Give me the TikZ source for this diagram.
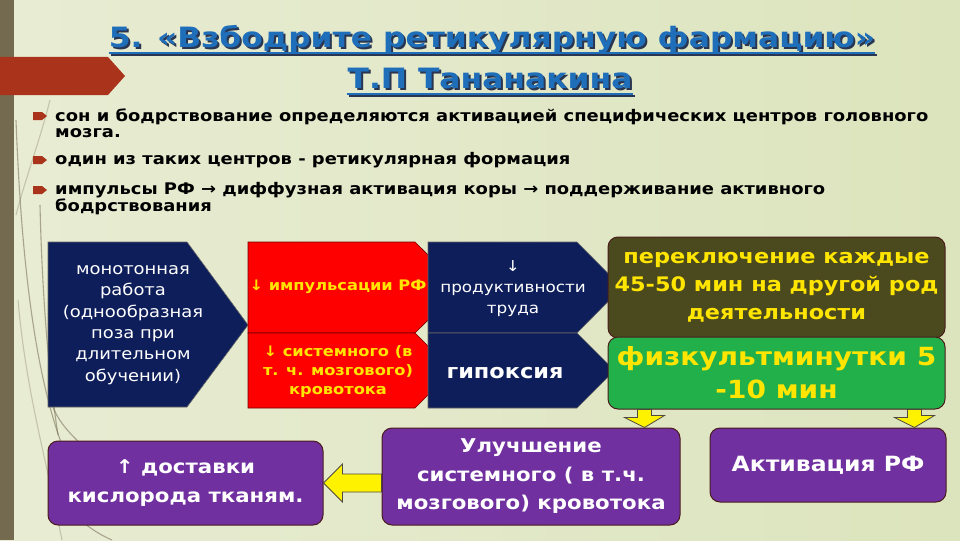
\documentclass[tikz,border=0pt]{standalone}
\usepackage{fontspec}
\setmainfont[FakeStretch=1.12]{DejaVu Sans}
\usetikzlibrary{positioning, calc}

\definecolor{navy}{HTML}{0E1E5B}
\definecolor{brick}{HTML}{A9341B}
\definecolor{band}{HTML}{736A50}
\definecolor{titleblue}{HTML}{1F6EBA}
\definecolor{titleshade}{HTML}{2A3650}
\definecolor{txtyellow}{HTML}{FFE500}
\definecolor{olive}{HTML}{4B4A1F}
\definecolor{fizgreen}{HTML}{22B04B}
\definecolor{violet}{HTML}{7030A0}
\definecolor{rim}{HTML}{4A1C1C}
\definecolor{bgleft}{HTML}{E8ECD3}
\definecolor{bgmid}{HTML}{FAF9F0}
\definecolor{bgright}{HTML}{DCE4BD}

\begin{document}
\begin{tikzpicture}[x=1pt, y=-1pt,
    titletxt/.style={anchor=base, inner sep=0pt, font=\fontsize{28}{30}\selectfont\bfseries},
    bullet/.style={anchor=west, align=left, inner sep=0pt, font=\fontsize{16}{16}\selectfont\bfseries},
    chevnavy/.style={fill=navy, draw=black!60, line width=0.6},
    chevred/.style={fill=red, draw=red!45!black, line width=0.6},
    navytxt/.style={text=white, align=center, inner sep=0pt, font=\fontsize{16}{21.4}\selectfont},
    redtxt/.style={text=txtyellow, align=center, inner sep=0pt, font=\fontsize{14.5}{19}\selectfont\bfseries},
    rbox/.style={rounded corners=10, draw=rim, line width=1, align=center, inner sep=0pt},
    purplebox/.style={rbox, fill=violet, text=white, font=\fontsize{19}{28.5}\selectfont\bfseries},
    yarrow/.style={fill=yellow, draw=black!80!yellow, line width=0.8, line join=miter},
    grass/.style={draw=band, line width=1.1, opacity=0.55}
]

% background and left band
\shade[left color=bgleft, middle color=bgmid, right color=bgright] (0,0) rectangle (960,540);
\fill[band] (0,0) rectangle (14,540);
\draw[grass] (16,120) .. controls (22,280) and (38,380) .. (62,445);
\draw[grass] (40,205) .. controls (42,290) and (48,370) .. (58,435);
\draw[grass, opacity=0.3] (18,300) .. controls (26,390) and (44,450) .. (62,540);
\draw[grass] (52,405) .. controls (58,420) and (66,430) .. (82,445);
\draw[grass] (80,520) .. controls (90,528) and (100,535) .. (112,540);
\draw[grass, opacity=0.3] (50,100) .. controls (40,140) and (25,180) .. (16,215);
\fill[brick] (0,57) -- (108,57) -- (125,76) -- (108,95) -- (0,95) -- cycle;

% Title
\foreach \dd/\cc in {2/titleshade, 0/titleblue} {
  \node[titletxt, text=\cc] (title1) at (492+\dd,48+\dd) {5. «Взбодрите ретикулярную фармацию»};
  \draw[\cc, line width=2] ($(title1.base west)+(0,5)$) -- ($(title1.base east)+(0,5)$);
  \node[titletxt, text=\cc] (title2) at (490+\dd,88+\dd) {Т.П Тананакина};
  \draw[\cc, line width=2] ($(title2.base west)+(0,6)$) -- ($(title2.base east)+(0,6)$);
}

% Bullets
\foreach \yy in {116,160,190}
  \fill[brick] (33,\yy-4) -- (42,\yy-4) -- (47,\yy) -- (42,\yy+4) -- (33,\yy+4) -- cycle;
\node[bullet] (sleep) at (55,123) {сон и бодрствование определяются активацией специфических центров головного\\мозга.};
\node[bullet] (centre) at (55,160) {один из таких центров - ретикулярная формация};
\node[bullet] (impulse) at (55,199) {импульсы РФ → диффузная активация коры → поддерживание активного\\бодрствования};

% Chevrons
\path[chevnavy] (48,242) -- (187,242) -- (248,325) -- (187,407) -- (48,407) -- cycle;
\path[chevred] (248,242) -- (415,242) -- (461,287.5) -- (415,333) -- (248,333) -- cycle;
\path[chevred] (248,333) -- (415,333) -- (452.5,370.5) -- (415,408) -- (248,408) -- cycle;
\path[chevnavy] (428,242) -- (577,242) -- (622,287.5) -- (577,333) -- (428,333) -- cycle;
\path[chevnavy] (428,333) -- (577,333) -- (614.5,370.5) -- (577,408) -- (428,408) -- cycle;

\node[navytxt] (mono) at (133,325) {монотонная\\работа\\(однообразная\\поза при\\длительном\\обучении)};
\node[redtxt] (impred) at (338,287) {↓ импульсации РФ};
\node[redtxt] (bloodred) at (338,372) {↓ системного (в\\т. ч. мозгового)\\кровотока};
\node[navytxt, font=\fontsize{15}{21}\selectfont] (prod) at (513,289) {↓\\продуктивности\\труда};
\node[navytxt, font=\fontsize{20}{22}\selectfont\bfseries] (hypox) at (505,373) {гипоксия};

% Right boxes
\node[rbox, fill=olive, minimum width=337, minimum height=101, text=txtyellow,
      font=\fontsize{20}{28}\selectfont\bfseries] (switch) at (776.5,287.5) {переключение каждые\\45-50 мин на другой род\\деятельности};
\node[rbox, fill=fizgreen, minimum width=337, minimum height=72, text=txtyellow,
      font=\fontsize{25}{33}\selectfont\bfseries, below=2 of switch] (fizk) {физкультминутки 5\\-10 мин};

% Bottom boxes
\node[purplebox, minimum width=275, minimum height=84] (oxygen) at (185.5,483) {↑ доставки\\кислорода тканям.};
\node[purplebox, minimum width=298, minimum height=97] (improve) at (531,476.5) {Улучшение\\системного ( в т.ч.\\мозгового) кровотока};
\node[purplebox, minimum width=236, minimum height=74, font=\fontsize{21}{24}\selectfont\bfseries] (activ) at (828,465) {Активация РФ};

% Arrows
\coordinate (downL) at ($(fizk.south west)+(37,0)$);
\coordinate (downR) at ($(fizk.south east)+(-31,0)$);
\draw[yarrow] (downL) ++(-7,0) -- ++(14,0) -- ++(0,6) -- ++(13,0) -- (downL |- improve.north) -- ++(-20,-10) -- ++(13,0) -- cycle;
\draw[yarrow] (downR) ++(-7,0) -- ++(14,0) -- ++(0,6) -- ++(13,0) -- (downR |- activ.north) -- ++(-20,-10) -- ++(13,0) -- cycle;
\draw[yarrow] (oxygen.east) -- ++(19,-19) -- ++(0,10) -- ($(oxygen.east -| improve.west)+(0,-9)$)
      -- ($(oxygen.east -| improve.west)+(0,9)$) -- ($(oxygen.east)+(19,9)$) -- ++(0,10) -- cycle;

\end{tikzpicture}
\end{document}
